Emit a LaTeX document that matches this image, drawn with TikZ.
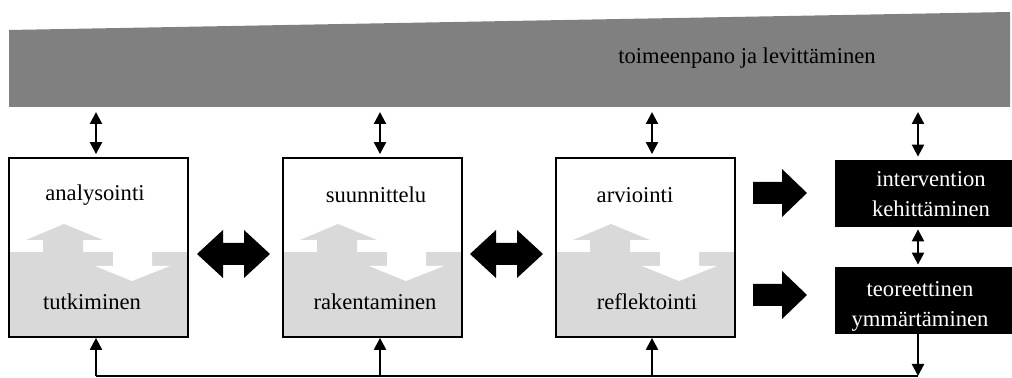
\documentclass[tikz,border=0pt]{standalone}
\usepackage{fontspec}
\setmainfont{Liberation Serif}
\usetikzlibrary{arrows.meta}

\definecolor{bandgray}{RGB}{128,128,128}
\definecolor{lowgray}{RGB}{217,217,217}

\tikzset{
  procbox/.style={draw, line width=0.9pt, minimum width=89.5pt, minimum height=89.5pt, inner sep=0pt},
  resbox/.style={fill=black, minimum width=88.5pt, minimum height=33.5pt, inner sep=0pt},
  txt/.style={font=\fontsize{11.3}{15}\selectfont, inner sep=0pt},
  link/.style={line width=1.1pt, -{Triangle[width=6pt,length=6pt]}},
  dlink/.style={line width=1.1pt, {Triangle[width=6pt,length=6pt]}-{Triangle[width=6pt,length=6pt]}},
}

\begin{document}
\begin{tikzpicture}[x=0.5pt, y=-0.5pt]
    \useasboundingbox (0,0) rectangle (1012,378);

    % slanted band on top
    \fill[bandgray] (9,30) -- (1010,12) -- (1010,107) -- (9,107) -- cycle;
    \node[txt] (band) at (747,58) {toimeenpano ja levittäminen};
    \foreach \c/\x in {b1/96,b2/380,b3/652,b4/918}{
        \coordinate (\c) at (\x,107);
    }

    % the three process boxes
    \foreach \n/\l/\up/\ux/\down/\dx in {ana/9/analysointi/86/tutkiminen/83,
                                         suun/283/suunnittelu/93/rakentaminen/92,
                                         arvi/556/arviointi/79/reflektointi/91}{
        \begin{scope}[shift={(\l,0)}]
            \fill[lowgray] (0,252) rectangle (179,337);
            \fill[lowgray] (34,252) -- (34,240) -- (17,240) -- (55,224) -- (94,240) -- (74,240) -- (74,252) -- cycle;
            \fill[white] (104,252) -- (104,266) -- (86,266) -- (123,281) -- (161,266) -- (143,266) -- (143,252) -- cycle;
            \node[txt] (\n-up) at (\ux,195) {\up};
            \node[txt] (\n-down) at (\dx,302) {\down};
        \end{scope}
        \node[procbox] (\n) at (\l+89.5,247.5) {};
    }

    % result boxes
    \node[resbox] (interv) at (923.5,193.5) {};
    \node[txt, text=white, align=center] (interv-t) at (931,194) {intervention\\kehittäminen};
    \node[resbox] (teor) at (923.5,300.5) {};
    \node[txt, text=white, align=center] (teor-t) at (920,306) {teoreettinen\\ymmärtäminen};

    % block arrows
    \foreach \x in {197,470}{
        \fill (\x,254) -- (\x+26,230) -- (\x+26,243) -- (\x+47,243) -- (\x+47,230) -- (\x+73,254)
              -- (\x+47,278) -- (\x+47,265) -- (\x+26,265) -- (\x+26,278) -- cycle;
    }
    \foreach \y in {193,295}{
        \fill (753,\y-11) -- (782,\y-11) -- (782,\y-24) -- (807,\y) -- (782,\y+24) -- (782,\y+11) -- (753,\y+11) -- cycle;
    }

    % links to the band
    \foreach \c/\n in {b1/ana,b2/suun,b3/arvi,b4/interv}{
        \draw[dlink, shorten <=2.5pt, shorten >=1.5pt] (\c) -- (\c |- \n.north);
    }
    \draw[dlink, shorten <=1pt, shorten >=1pt] (b4 |- interv.south) -- (b4 |- teor.north);

    % feedback line
    \coordinate (fl) at (96,376);
    \coordinate (fr) at (918,376);
    \draw[link] (b4 |- teor.south) -- (fr);
    \draw[line width=1.1pt] (fr) -- (fl);
    \foreach \c/\n in {b1/ana,b2/suun,b3/arvi}{
        \draw[link] (\c |- fl) -- (\c |- \n.south);
    }
\end{tikzpicture}
\end{document}
